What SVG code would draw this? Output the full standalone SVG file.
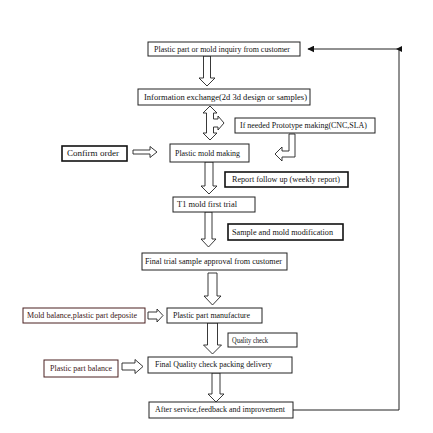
<svg xmlns="http://www.w3.org/2000/svg" width="433" height="433" viewBox="0 0 433 433">
<style>
.box{fill:#fff;stroke:#222;stroke-width:1}
.bold{fill:#fff;stroke:#111;stroke-width:1.6}
.red{fill:#fff;stroke:#4a2020;stroke-width:1}
.t{font-family:"Liberation Serif","Times New Roman",serif;font-size:7.5px;fill:#111}
.tr{font-family:"Liberation Serif","Times New Roman",serif;font-size:7.5px;fill:#3a1414}
.ha{fill:#fff;stroke:#222;stroke-width:0.9}
.ln{fill:none;stroke:#222;stroke-width:1}
</style>
<defs>
<marker id="ah" viewBox="0 0 10 10" refX="9" refY="5" markerWidth="7" markerHeight="7" orient="auto-start-reverse" markerUnits="userSpaceOnUse">
<path d="M0,0 L10,5 L0,10 Z" fill="#111"/>
</marker>
</defs>
<rect width="433" height="433" fill="#fff"/>
<g id="connectors">
<polyline class="ln" points="293,410 399,410 399,49 308,49" marker-end="url(#ah)"/>
<path d="M396,49 L402,46 L402,52 Z" fill="#111"/>
<path class="ha" d="M203.5,56 H210.5 V78 H215 L207,86 L199,78 H203.5 Z"/>
<path class="ha" d="M210,106 L217,113 H213.5 V119 H218 V116 L224,123 L218,130 V127 H213.5 V133 H217 L210,140 L203,133 H206.5 V113 H203 Z"/>
<path class="ha" d="M289,134 H295 V157 H282 V161 L275,154 L282,147 V151 H289 Z"/>
<path class="ha" d="M133,150 H150 V146.5 L157,152 L150,157.5 V154 H133 Z"/>
<path class="ha" d="M205,162 H213 V186 H217 L209,194 L201,186 H205 Z"/>
<path class="ha" d="M205,212 H212 V239 H216 L208.5,247 L201,239 H205 Z"/>
<path class="ha" d="M208,273 H217 V296 H221 L212.5,305 L204,296 H208 Z"/>
<path class="ha" d="M148,312 H157 V309 L163,315.5 L157,322 V319 H148 Z"/>
<path class="ha" d="M207.5,323 H217.5 V345 H221.5 L212.5,354 L203.5,345 H207.5 Z"/>
<path class="ha" d="M122,363 H135 V359.5 L143,366.5 L135,373.5 V370 H122 Z"/>
<path class="ha" d="M212,373 H220 V394 H224 L216,402 L208,394 H212 Z"/>
</g>
<g id="n1"><rect class="box" x="148" y="42" width="152" height="14"/><text class="t" x="154" y="51.5" textLength="136" lengthAdjust="spacingAndGlyphs">Plastic part or mold inquiry from customer</text></g>
<g id="n2"><rect class="box" x="138" y="89" width="172" height="16"/><text class="t" x="144" y="99.5" textLength="163" lengthAdjust="spacingAndGlyphs">Information exchange(2d 3d design or samples)</text></g>
<g id="n3"><rect class="box" x="235" y="118" width="140" height="15"/><text class="t" x="240" y="128" textLength="127" lengthAdjust="spacingAndGlyphs">If needed Prototype making(CNC,SLA)</text></g>
<g id="n4"><rect class="bold" x="62" y="146" width="65" height="15"/><text class="t" x="67" y="156" textLength="52" lengthAdjust="spacingAndGlyphs">Confirm order</text></g>
<g id="n5"><rect class="box" x="170" y="144" width="79" height="18"/><text class="t" x="175" y="155.5" textLength="65" lengthAdjust="spacingAndGlyphs">Plastic mold making</text></g>
<g id="n6"><rect class="bold" x="225" y="172" width="123" height="15"/><text class="t" x="232" y="182" textLength="108" lengthAdjust="spacingAndGlyphs">Report follow up (weekly report)</text></g>
<g id="n7"><rect class="box" x="173" y="197" width="82" height="15"/><text class="t" x="177" y="207" textLength="60" lengthAdjust="spacingAndGlyphs">T1 mold first trial</text></g>
<g id="n8"><rect class="bold" x="228" y="224" width="115" height="16"/><text class="t" x="232" y="234.5" textLength="101" lengthAdjust="spacingAndGlyphs">Sample and mold modification</text></g>
<g id="n9"><rect class="box" x="142" y="253" width="145" height="17"/><text class="t" x="145" y="264" textLength="137" lengthAdjust="spacingAndGlyphs">Final trial sample approval from customer</text></g>
<g id="n10"><rect class="red" x="23" y="308" width="122" height="15"/><text class="tr" x="27" y="318" textLength="110" lengthAdjust="spacingAndGlyphs">Mold balance,plastic part deposite</text></g>
<g id="n11"><rect class="box" x="167" y="308" width="95" height="15"/><text class="t" x="173" y="318" textLength="77" lengthAdjust="spacingAndGlyphs">Plastic part manufacture</text></g>
<g id="n12"><rect class="box" x="228" y="333" width="69" height="14"/><text class="t" x="232" y="342.5" textLength="36" lengthAdjust="spacingAndGlyphs">Quality check</text></g>
<g id="n13"><rect class="red" x="44" y="360" width="74" height="17"/><text class="tr" x="50" y="370.5" textLength="62" lengthAdjust="spacingAndGlyphs">Plastic part balance</text></g>
<g id="n14"><rect class="box" x="148" y="357" width="144" height="16"/><text class="t" x="155" y="367" textLength="117" lengthAdjust="spacingAndGlyphs">Final Quality check packing delivery</text></g>
<g id="n15"><rect class="box" x="149" y="402" width="144" height="16"/><text class="t" x="155" y="412" textLength="130" lengthAdjust="spacingAndGlyphs">After service,feedback and improvement</text></g>
</svg>
